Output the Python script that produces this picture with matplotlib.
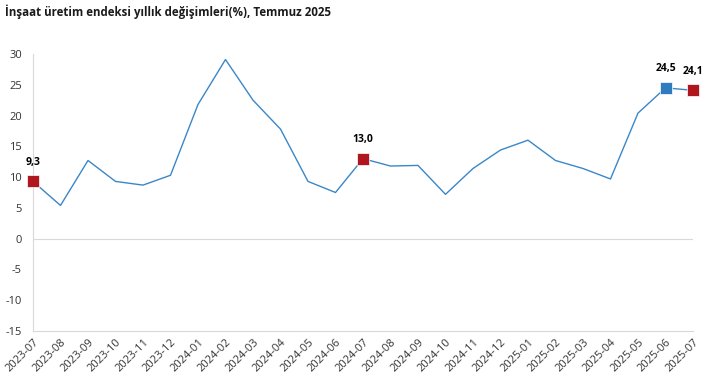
import numpy as np
import matplotlib.pyplot as plt

months = ['2023-07', '2023-08', '2023-09', '2023-10', '2023-11', '2023-12',
          '2024-01', '2024-02', '2024-03', '2024-04', '2024-05', '2024-06',
          '2024-07', '2024-08', '2024-09', '2024-10', '2024-11', '2024-12',
          '2025-01', '2025-02', '2025-03', '2025-04', '2025-05', '2025-06',
          '2025-07']
values = [9.3, 5.4, 12.7, 9.3, 8.7, 10.3, 21.8, 29.1, 22.5, 17.8, 9.3, 7.5,
          13.0, 11.8, 11.9, 7.2, 11.4, 14.4, 16.0, 12.7, 11.4, 9.7, 20.4,
          24.5, 24.1]
red_points = ['2023-07', '2024-07', '2025-07']
blue_points = ['2025-06']

plt.rcParams['font.family'] = ['Open Sans', 'DejaVu Sans']
plt.rcParams['axes.unicode_minus'] = False

fig = plt.figure(figsize=(7.09, 3.79), dpi=100)
ax = fig.add_axes([33 / 709, 1 - 331 / 379, (693 - 33) / 709, (331 - 54) / 379])

x = np.arange(len(months))
ax.plot(x, values, color='#3a87c8', linewidth=1.0, zorder=3)

for i, m in enumerate(months):
    if m in red_points or m in blue_points:
        c = '#b0161e' if m in red_points else '#2e7bbf'
        ax.plot(x[i], values[i], 's', markersize=9, color=c,
                markeredgecolor='white', markeredgewidth=0.5, zorder=4, clip_on=False)
        ax.annotate(f'{values[i]:.1f}'.replace('.', ','), (x[i], values[i]),
                    xytext=(0, 12), textcoords='offset points', ha='center',
                    fontsize=7.5, fontweight='bold', color='black')

ax.axhline(0, color='#d9d9d9', linewidth=0.8, zorder=1)
ax.set_xlim(0, len(months) - 1)
ax.set_ylim(-15, 30)
ax.set_yticks(np.arange(-15, 31, 5))
ax.set_xticks(x)
ax.set_xticklabels(months, rotation=45, ha='right', rotation_mode='anchor')
ax.tick_params(axis='both', length=0, labelsize=8, colors='#333333', pad=4)
ax.tick_params(axis='y', pad=8)

for s in ['top', 'right']:
    ax.spines[s].set_visible(False)
ax.spines['left'].set_color('#d9d9d9')
ax.spines['bottom'].set_color('#d9d9d9')

fig.text(5 / 709, 1 - 12 / 379, 'İnşaat üretim endeksi yıllık değişimleri(%), Temmuz 2025',
         fontsize=8.3, fontweight='bold', color='#1a1a1a', va='center')

fig.savefig('out.png', dpi=100)
